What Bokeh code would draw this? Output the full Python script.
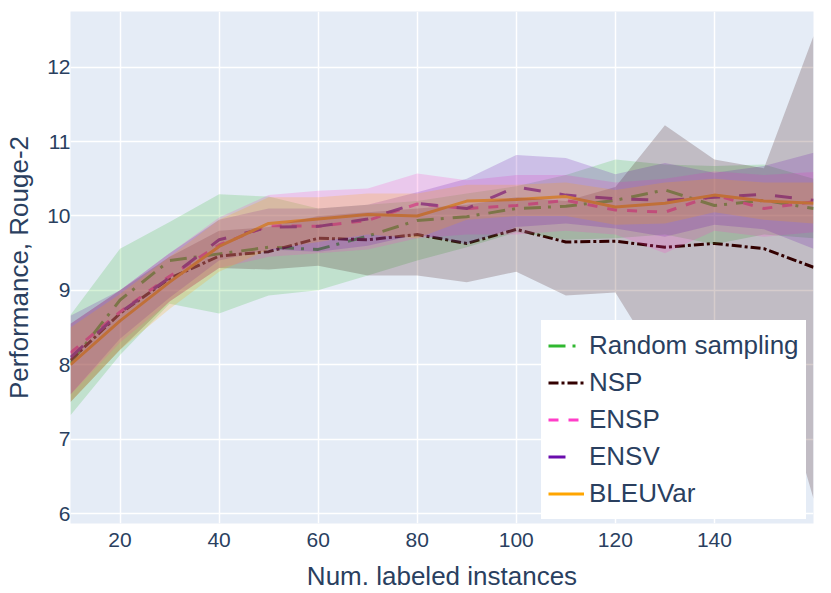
from bokeh.plotting import figure
from bokeh.models import Legend, LegendItem, FixedTicker, Range1d
from bokeh.embed import file_html
from bokeh.resources import INLINE

x = [10, 20, 30, 40, 50, 60, 70, 80, 90, 100, 110, 120, 130, 140, 150, 160]

random_mean = [8.02, 8.87, 9.40, 9.49, 9.58, 9.55, 9.73, 9.94, 9.99, 10.10, 10.13, 10.21, 10.35, 10.14, 10.21, 10.10]
random_lo = [7.32, 8.13, 8.82, 8.69, 8.93, 9.00, 9.20, 9.40, 9.58, 9.78, 9.68, 9.70, 9.75, 9.62, 9.75, 9.70]
random_hi = [8.67, 9.56, 9.92, 10.29, 10.26, 10.10, 10.15, 10.20, 10.30, 10.40, 10.55, 10.76, 10.69, 10.67, 10.69, 10.50]

nsp_mean = [8.06, 8.69, 9.16, 9.46, 9.52, 9.70, 9.68, 9.75, 9.63, 9.82, 9.65, 9.66, 9.58, 9.63, 9.56, 9.31]
nsp_lo = [7.50, 8.20, 8.85, 9.30, 9.28, 9.33, 9.20, 9.20, 9.11, 9.25, 8.93, 8.97, 7.90, 8.20, 8.50, 6.20]
nsp_hi = [8.55, 9.00, 9.45, 9.80, 9.85, 10.00, 10.05, 10.10, 10.15, 10.25, 10.20, 10.39, 11.22, 10.76, 10.64, 12.42]

ensp_mean = [8.16, 8.71, 9.19, 9.61, 9.87, 9.86, 9.94, 10.16, 10.10, 10.14, 10.21, 10.08, 10.05, 10.28, 10.10, 10.19]
ensp_lo = [7.60, 8.30, 8.85, 9.30, 9.45, 9.50, 9.55, 9.70, 9.75, 9.75, 9.80, 9.75, 9.50, 9.80, 9.72, 9.78]
ensp_hi = [8.55, 9.00, 9.50, 9.98, 10.28, 10.34, 10.37, 10.57, 10.48, 10.55, 10.55, 10.45, 10.50, 10.60, 10.55, 10.59]

ensv_mean = [8.10, 8.70, 9.17, 9.68, 9.85, 9.86, 9.96, 10.17, 10.10, 10.39, 10.28, 10.23, 10.21, 10.25, 10.29, 10.21]
ensv_lo = [7.60, 8.35, 8.90, 9.40, 9.55, 9.52, 9.60, 9.75, 9.62, 9.85, 9.90, 9.83, 9.72, 9.88, 9.82, 9.56]
ensv_hi = [8.66, 9.00, 9.50, 9.95, 10.10, 10.10, 10.15, 10.32, 10.50, 10.82, 10.78, 10.56, 10.71, 10.58, 10.67, 10.85]

bleu_mean = [8.00, 8.59, 9.11, 9.59, 9.90, 9.96, 10.02, 10.00, 10.20, 10.22, 10.26, 10.12, 10.17, 10.28, 10.20, 10.17]
bleu_lo = [7.50, 8.20, 8.75, 9.25, 9.55, 9.65, 9.75, 9.70, 9.95, 10.00, 10.00, 9.88, 9.90, 10.05, 9.95, 9.90]
bleu_hi = [8.50, 8.95, 9.45, 9.95, 10.25, 10.25, 10.30, 10.30, 10.42, 10.42, 10.45, 10.35, 10.45, 10.50, 10.45, 10.45]

names = ["Random sampling", "NSP", "ENSP", "ENSV", "BLEUVar"]
colors = ["#30b830", "#330000", "#ff3ec8", "#6a0dad", "#ffa500"]
dashes = ["17 7 3 9", "10 3 3 3", "10 10", "17 19", "solid"]

x_ticks = [20, 40, 60, 80, 100, 120, 140]
y_ticks = [6, 7, 8, 9, 10, 11, 12]

means = [random_mean, nsp_mean, ensp_mean, ensv_mean, bleu_mean]
los = [random_lo, nsp_lo, ensp_lo, ensv_lo, bleu_lo]
his = [random_hi, nsp_hi, ensp_hi, ensv_hi, bleu_hi]

FONT = "Liberation Sans"
TXT = "#2a3f5f"

p = figure(width=829, height=593, output_backend="svg", toolbar_location=None,
           x_range=Range1d(10, 160), y_range=Range1d(5.866, 12.748),
           min_border_left=70, min_border_right=16, min_border_top=11, min_border_bottom=70)
p.background_fill_color = "#e5ecf6"
p.border_fill_color = "white"
p.outline_line_color = None

for ax in (p.xaxis[0], p.yaxis[0]):
    ax.axis_line_color = None
    ax.major_tick_line_color = None
    ax.minor_tick_line_color = None
    ax.major_tick_in = 0
    ax.major_tick_out = 0
    ax.major_label_text_font = FONT
    ax.major_label_text_font_size = "21px"
    ax.major_label_text_color = TXT
    ax.axis_label_text_font = FONT
    ax.axis_label_text_font_size = "26px"
    ax.axis_label_text_font_style = "normal"
    ax.axis_label_text_color = TXT

p.xaxis.ticker = FixedTicker(ticks=x_ticks)
p.yaxis.ticker = FixedTicker(ticks=y_ticks)
p.xaxis.axis_label = "Num. labeled instances"
p.yaxis.axis_label = "Performance, Rouge-2"
p.xaxis.major_label_standoff = 9
p.xaxis.axis_label_standoff = 11
p.yaxis.major_label_standoff = 0
p.yaxis.axis_label_standoff = 10

p.xgrid.grid_line_color = "white"
p.ygrid.grid_line_color = "white"
p.xgrid.grid_line_width = 1.5
p.ygrid.grid_line_width = 1.5

line_renderers = []
for m, c, d in zip(means, colors, dashes):
    r = p.line(x, m, line_color=c, line_width=3, line_dash=d)
    line_renderers.append(r)

for lo, hi, c in zip(los, his, colors):
    p.varea(x=x, y1=lo, y2=hi, fill_color=c, fill_alpha=0.2)

items = [LegendItem(label=n, renderers=[r]) for n, r in zip(names, line_renderers)]
legend = Legend(items=items, location=(471, 4))
legend.label_text_font = FONT
legend.label_text_font_size = "26px"
legend.label_text_color = TXT
legend.glyph_width = 36
legend.glyph_height = 37
legend.label_height = 37
legend.label_standoff = 5
legend.spacing = 0
legend.padding = 7
legend.margin = 0
legend.border_line_alpha = 0
legend.background_fill_color = "white"
legend.background_fill_alpha = 1.0
p.add_layout(legend, "center")

open("out.html", "w").write(file_html(p, INLINE))
